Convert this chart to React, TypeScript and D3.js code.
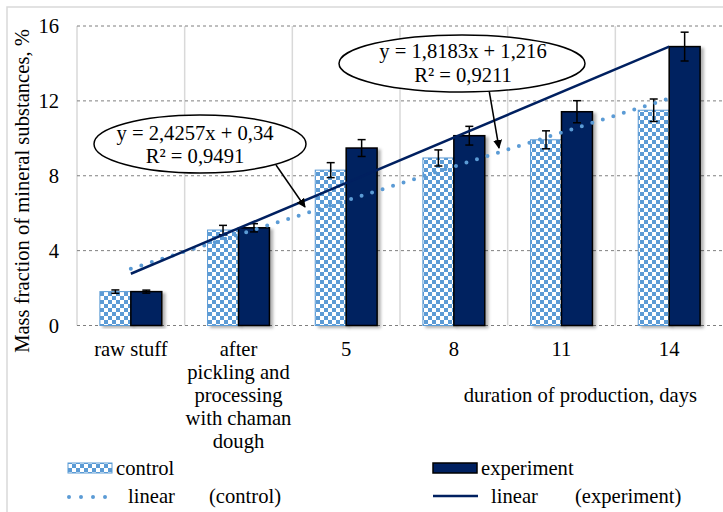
import React from "react";
import * as d3 from "d3";

const categories = ["raw stuff", "after pickling and processing with chaman dough", "5", "8", "11", "14"];
const categoryLines = [["raw stuff"], ["after", "pickling and", "processing", "with chaman", "dough"], ["5"], ["8"], ["11"], ["14"]];
const controlValues = [1.81, 5.1, 8.3, 8.95, 9.92, 11.5];
const controlErrors = [0.09, 0.25, 0.4, 0.43, 0.48, 0.6];
const experimentValues = [1.81, 5.22, 9.48, 10.14, 11.42, 14.9];
const experimentErrors = [0.08, 0.22, 0.45, 0.5, 0.59, 0.77];
const yTicks = [0, 4, 8, 12, 16];
// trend coefficients [slope, intercept]
const trendControl = [1.8183, 1.216];
const trendExperiment = [2.4257, 0.34];
const labelControl = ["y = 1,8183x + 1,216", "R² = 0,9211"];
const labelExperiment = ["y = 2,4257x + 0,34", "R² = 0,9491"];

const W = 723;
const H = 512;
const BLUE = "#5B9BD5";
const NAVY = "#002060";
const FONT = "Liberation Serif";

export default function App() {
  const left = 77, right = 723, top = 26, bottom = 325.5;
  const x = d3.scaleBand<string>().domain(categories).range([left, right]);
  const bw = x.bandwidth();
  const x1 = d3.scaleBand<string>().domain(["control", "experiment"]).range([0, bw]).paddingOuter(0.74);
  const y = d3.scaleLinear().domain([0, 16]).range([bottom, top]);
  const xi = d3.scaleLinear().domain([1, categories.length]).range([
    x(categories[0])! + bw / 2,
    x(categories[categories.length - 1])! + bw / 2,
  ]);
  const trend = (c: number[]) =>
    d3.line<number>().x((t) => xi(t)).y((t) => y(c[0] * t + c[1]))([1, categories.length]) || "";

  const errBar = (cx: number, v: number, e: number, key: string) => (
    <g key={key} stroke="#000" strokeWidth={1.5}>
      <line x1={cx} x2={cx} y1={y(v + e)} y2={y(v - e)} />
      <line x1={cx - 4} x2={cx + 4} y1={y(v + e)} y2={y(v + e)} />
      <line x1={cx - 4} x2={cx + 4} y1={y(v - e)} y2={y(v - e)} />
    </g>
  );

  return (
    <svg width={W} height={H} style={{ position: "absolute", left: 0, top: 0 }}>
      <defs>
        <pattern id="checker" patternUnits="userSpaceOnUse" width={8} height={8}>
          <rect width={8} height={8} fill="#fff" />
          <rect width={4} height={4} fill={BLUE} />
          <rect x={4} y={4} width={4} height={4} fill={BLUE} />
        </pattern>
        <filter id="shadow" x="-20%" y="-5%" width="150%" height="115%">
          <feDropShadow dx={3} dy={2} stdDeviation={1.5} floodColor="#000" floodOpacity={0.3} />
        </filter>
        <marker id="arrow" viewBox="0 0 10 10" refX={9} refY={5} markerWidth={6} markerHeight={6} orient="auto">
          <path d="M0,0 L10,5 L0,10 z" fill="#000" />
        </marker>
      </defs>
      <rect x={0} y={0} width={W} height={H} fill="#fff" />
      <rect x={7} y={7} width={W + 10} height={H + 10} fill="none" stroke="#d9d9d9" strokeWidth={1.5} />

      <g fontFamily={FONT} fontSize={20.6} fill="#000">
        {/* vertical category separators */}
        {categories.map((c, i) => (
          <line key={"v" + i} x1={x(c)!} x2={x(c)!} y1={top} y2={bottom} stroke="#d9d9d9" strokeWidth={1.5} />
        ))}
        {/* horizontal grid */}
        {yTicks.map((t) => (
          <g key={"g" + t}>
            <line x1={left} x2={right} y1={y(t)} y2={y(t)} stroke="#7f7f7f" strokeWidth={1} strokeDasharray="3 3" />
            <text x={59} y={y(t) + 7} textAnchor="end">{t}</text>
          </g>
        ))}

        {/* bars */}
        {categories.map((c, i) => (
          <g key={"b" + i}>
            <rect x={x(c)! + x1("control")!} y={y(controlValues[i])} width={x1.bandwidth()}
              height={y(0) - y(controlValues[i])} fill="url(#checker)" stroke={BLUE} strokeWidth={1} filter="url(#shadow)" />
            <rect x={x(c)! + x1("experiment")!} y={y(experimentValues[i])} width={x1.bandwidth()}
              height={y(0) - y(experimentValues[i])} fill={NAVY} stroke="#000" strokeWidth={1.5} filter="url(#shadow)" />
          </g>
        ))}
        {categories.map((c, i) => errBar(x(c)! + x1("control")! + x1.bandwidth() / 2, controlValues[i], controlErrors[i], "ec" + i))}
        {categories.map((c, i) => errBar(x(c)! + x1("experiment")! + x1.bandwidth() / 2, experimentValues[i], experimentErrors[i], "ee" + i))}

        {/* trend lines */}
        <path d={trend(trendControl)} fill="none" stroke={BLUE} strokeWidth={4} strokeDasharray="0 11" strokeLinecap="round" />
        <path d={trend(trendExperiment)} fill="none" stroke={NAVY} strokeWidth={2.5} />

        {/* x labels */}
        {categoryLines.map((lines, i) => (
          <text key={"xl" + i} x={x(categories[i])! + bw / 2} y={356} textAnchor="middle">
            {lines.map((l, j) => (
              <tspan key={j} x={x(categories[i])! + bw / 2} dy={j === 0 ? 0 : 23}>{l}</tspan>
            ))}
          </text>
        ))}
        <text x={697} y={402} textAnchor="end">duration of production, days</text>
        <text transform="translate(29,191) rotate(-90)" textAnchor="middle">
          Mass fraction of mineral substances, %
        </text>

        {/* equation callouts */}
        <line x1={276} y1={165} x2={305} y2={207} stroke="#000" strokeWidth={1.5} markerEnd="url(#arrow)" />
        <ellipse cx={200} cy={144} rx={106} ry={29} fill="#fff" stroke="#000" strokeWidth={1.5} />
        <text x={195} y={140} textAnchor="middle">{labelExperiment[0]}</text>
        <text x={195} y={163} textAnchor="middle">{labelExperiment[1]}</text>

        <line x1={489} y1={90} x2={499} y2={148} stroke="#000" strokeWidth={1.5} markerEnd="url(#arrow)" />
        <ellipse cx={462} cy={63.5} rx={123} ry={28.5} fill="#fff" stroke="#000" strokeWidth={1.5} />
        <text x={463} y={58} textAnchor="middle">{labelControl[0]}</text>
        <text x={463} y={82} textAnchor="middle">{labelControl[1]}</text>

        {/* legend */}
        <rect x={68} y={463} width={44} height={10} fill="url(#checker)" stroke={BLUE} strokeWidth={1} />
        <text x={116} y={475}>control</text>
        <rect x={433} y={463} width={44} height={10} fill={NAVY} stroke="#000" strokeWidth={1.5} />
        <text x={481} y={475}>experiment</text>
        <line x1={69} x2={108} y1={497} y2={497} stroke={BLUE} strokeWidth={4} strokeDasharray="0 12" strokeLinecap="round" />
        <text x={128} y={503}>linear</text>
        <text x={209} y={503}>(control)</text>
        <line x1={433} x2={478} y1={496} y2={496} stroke={NAVY} strokeWidth={2.5} />
        <text x={491} y={503}>linear</text>
        <text x={575} y={503}>(experiment)</text>
      </g>
    </svg>
  );
}
